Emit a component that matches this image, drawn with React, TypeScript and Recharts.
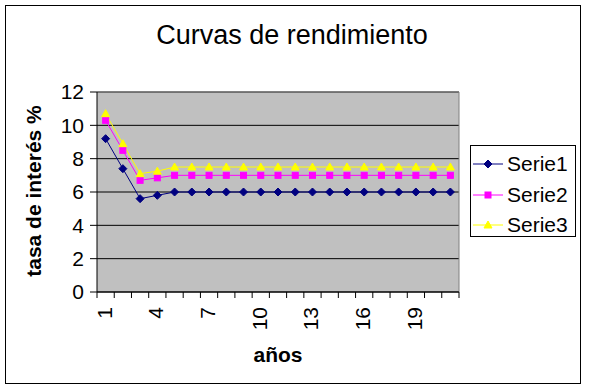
import { LineChart, Line, XAxis, YAxis, CartesianGrid, ReferenceLine, Label } from 'recharts';

const years = [1, 2, 3, 4, 5, 6, 7, 8, 9, 10, 11, 12, 13, 14, 15, 16, 17, 18, 19, 20, 21];
const serie1 = [9.2, 7.4, 5.6, 5.8, 6, 6, 6, 6, 6, 6, 6, 6, 6, 6, 6, 6, 6, 6, 6, 6, 6];
const serie2 = [10.3, 8.5, 6.7, 6.85, 7, 7, 7, 7, 7, 7, 7, 7, 7, 7, 7, 7, 7, 7, 7, 7, 7];
const serie3 = [10.7, 8.9, 7.1, 7.25, 7.5, 7.5, 7.5, 7.5, 7.5, 7.5, 7.5, 7.5, 7.5, 7.5, 7.5, 7.5, 7.5, 7.5, 7.5, 7.5, 7.5];
const xLabels = [1, 4, 7, 10, 13, 16, 19];
const yTicks = [0, 2, 4, 6, 8, 10, 12];

const data = years.map((year, i) => ({ year, serie1: serie1[i], serie2: serie2[i], serie3: serie3[i] }));
const boundaries = [...years.map((y) => y - 0.5), years[years.length - 1] + 0.5];

const FONT = '"Liberation Sans", Arial, sans-serif';
const W = 589;
const H = 391;
const MARGIN = { top: 92, right: 130, bottom: 39, left: 52 };
const PLOT_W = W - MARGIN.left - 45 - MARGIN.right;

const series = [
  { key: 'serie1', name: 'Serie1', color: '#000080', shape: 'diamond' },
  { key: 'serie2', name: 'Serie2', color: '#FF00FF', shape: 'square' },
  { key: 'serie3', name: 'Serie3', color: '#FFFF00', shape: 'triangle' },
];

function Marker({ cx, cy, shape, color }: any) {
  if (cx == null || cy == null) return null;
  if (shape === 'diamond') {
    return <polygon points={`${cx},${cy - 4} ${cx + 4},${cy} ${cx},${cy + 4} ${cx - 4},${cy}`} fill={color} stroke={color} />;
  }
  if (shape === 'square') {
    return <rect x={cx - 3} y={cy - 3} width={6} height={6} fill={color} stroke={color} />;
  }
  return <polygon points={`${cx},${cy - 4} ${cx + 4},${cy + 3} ${cx - 4},${cy + 3}`} fill={color} stroke={color} />;
}

function XTick({ x, y, payload }: any) {
  const label = payload.value + 0.5;
  const step = PLOT_W / years.length;
  return (
    <g>
      <line x1={x} y1={y} x2={x} y2={y + 6} stroke="#000" />
      {xLabels.includes(label) && (
        <text
          transform={`translate(${x + step / 2 + 6},${y + 15}) rotate(-90)`}
          textAnchor="end"
          fontFamily={FONT}
          fontSize={21}
          fill="#000"
        >
          {label}
        </text>
      )}
    </g>
  );
}

export default function App() {
  return (
    <div style={{ position: 'absolute', left: 0, top: 0, width: W, height: H, background: '#fff', fontFamily: FONT }}>
      <div style={{ position: 'absolute', left: 5, top: 5, width: 574, height: 377, border: '1px solid #000' }} />
      <div style={{ position: 'absolute', left: 0, top: 20, width: 584, textAlign: 'center', fontSize: 27, color: '#000' }}>
        Curvas de rendimiento
      </div>
      <LineChart width={W} height={H} data={data} margin={MARGIN}>
        <CartesianGrid vertical={false} stroke="#000" fill="#C0C0C0" fillOpacity={1} />
        <XAxis
          dataKey="year"
          type="number"
          domain={[0.5, 21.5]}
          ticks={boundaries}
          interval={0}
          tickLine={false}
          tickSize={0}
          tickMargin={0}
          axisLine={{ stroke: '#000' }}
          tick={<XTick />}
          height={60}
        >
          <Label
            content={() => (
              <text x={278} y={362} textAnchor="middle" fontFamily={FONT} fontSize={21} fontWeight="bold" fill="#000">
                años
              </text>
            )}
          />
        </XAxis>
        <YAxis
          domain={[0, 12]}
          ticks={yTicks}
          interval={0}
          width={45}
          tickSize={7}
          tickMargin={6}
          axisLine={{ stroke: '#000' }}
          tickLine={{ stroke: '#000' }}
          tick={{ fill: '#000', fontSize: 21, fontFamily: FONT }}
        >
          <Label
            content={() => (
              <text transform="translate(41,191) rotate(-90)" textAnchor="middle" fontFamily={FONT} fontSize={21} fontWeight="bold" fill="#000">
                tasa de interés %
              </text>
            )}
          />
        </YAxis>
        <ReferenceLine y={12} stroke="#808080" />
        <ReferenceLine x={21.5} stroke="#808080" />
        {series.map((s) => (
          <Line
            key={s.key}
            dataKey={s.key}
            name={s.name}
            type="linear"
            stroke={s.color}
            strokeWidth={1}
            dot={(p: any) => <Marker key={`${s.key}-${p.index}`} cx={p.cx} cy={p.cy} shape={s.shape} color={s.color} />}
            activeDot={false}
            isAnimationActive={false}
          />
        ))}
      </LineChart>
      <div
        style={{
          position: 'absolute',
          left: 470,
          top: 145,
          width: 104,
          height: 90,
          border: '1px solid #000',
          background: '#fff',
        }}
      >
        {series.map((s, i) => (
          <div key={s.key} style={{ position: 'absolute', left: 0, top: 6 + i * 30.5, height: 24, display: 'flex', alignItems: 'center' }}>
            <svg width={36} height={24}>
              <line x1={2} y1={12} x2={32} y2={12} stroke={s.color} />
              <Marker cx={17} cy={12} shape={s.shape} color={s.color} />
            </svg>
            <span style={{ fontSize: 21, color: '#000', lineHeight: '24px' }}>{s.name}</span>
          </div>
        ))}
      </div>
    </div>
  );
}
